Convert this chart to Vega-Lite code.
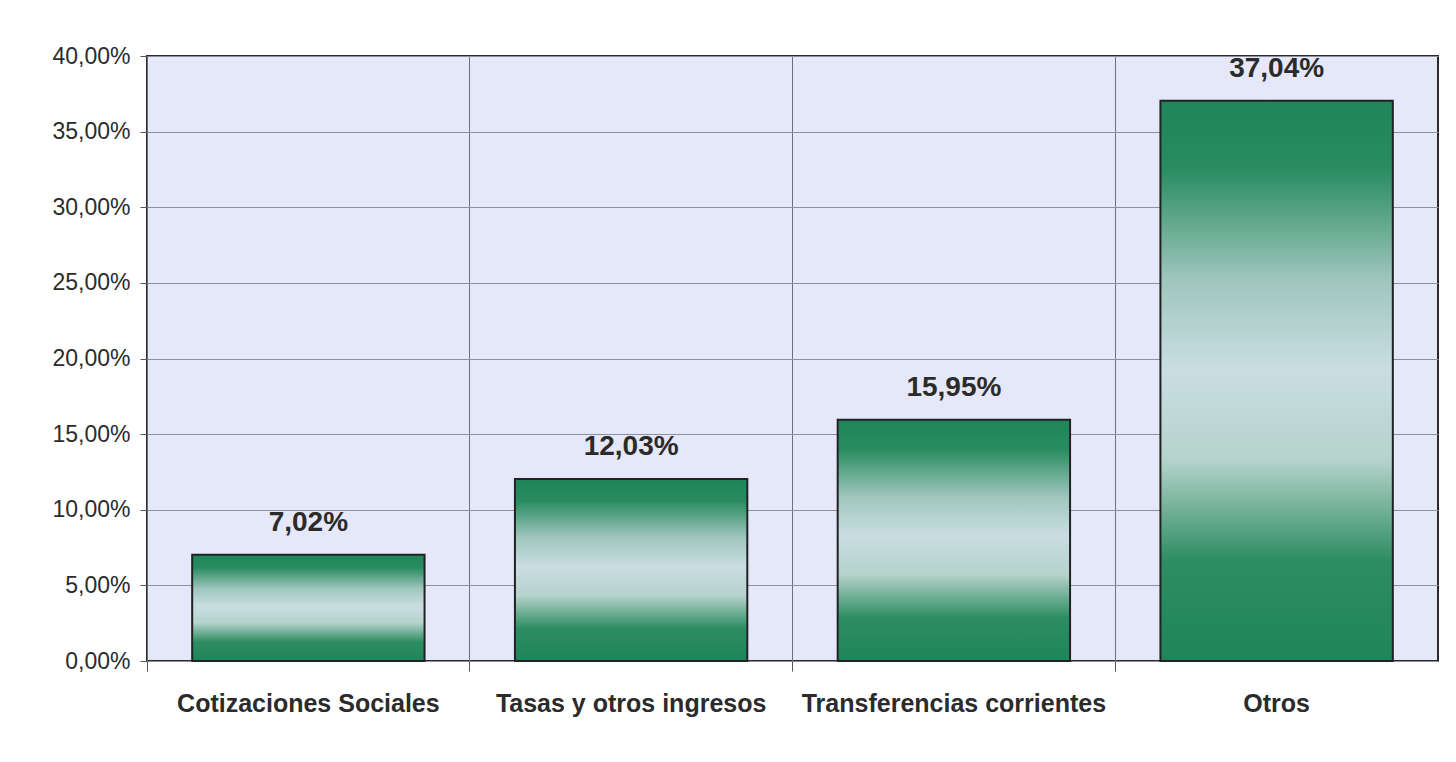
{
  "$schema": "https://vega.github.io/schema/vega-lite/v6.json",
  "autosize": {"type": "none"},
  "padding": {"left": 147, "top": 56, "right": 18, "bottom": 101},
  "width": 1291,
  "height": 605,
  "background": "white",
  "config": {
    "locale": {"number": {"decimal": ",", "thousands": ".", "grouping": [3], "currency": ["", " €"]}},
    "font": "Liberation Sans",
    "view": {"fill": "#e4e8f8", "stroke": "#2a2a2a", "strokeWidth": 2}
  },
  "data": {
    "values": [
      {"categoria": "Cotizaciones Sociales", "valor": 0.0702},
      {"categoria": "Tasas y otros ingresos", "valor": 0.1203},
      {"categoria": "Transferencias corrientes", "valor": 0.1595},
      {"categoria": "Otros", "valor": 0.3704}
    ]
  },
  "encoding": {
    "x": {
      "field": "categoria",
      "type": "nominal",
      "sort": null,
      "scale": {"paddingInner": 0.28, "paddingOuter": 0.14},
      "axis": {
        "title": null,
        "labelAngle": 0,
        "labelFont": "Liberation Sans",
        "labelFontSize": 25,
        "labelFontWeight": "bold",
        "labelColor": "#2b2b2b",
        "labelPadding": 20,
        "labelLimit": 0,
        "tickSize": 10,
        "tickColor": "#555",
        "domain": false,
        "grid": true,
        "gridColor": "#6e6e78",
        "gridWidth": 1,
        "bandPosition": -0.1944
      }
    },
    "y": {
      "field": "valor",
      "type": "quantitative",
      "scale": {"domain": [0, 0.4], "nice": false},
      "axis": {
        "title": null,
        "format": ".2%",
        "values": [0, 0.05, 0.1, 0.15, 0.2, 0.25, 0.3, 0.35, 0.4],
        "labelFont": "Liberation Sans",
        "labelFontSize": 23,
        "labelColor": "#2b2b2b",
        "labelPadding": 10,
        "tickSize": 7,
        "tickColor": "#555",
        "domain": false,
        "grid": true,
        "gridColor": "#8d8fa0",
        "gridWidth": 1
      }
    }
  },
  "layer": [
    {
      "mark": {
        "type": "bar",
        "stroke": "#222",
        "strokeWidth": 2,
        "color": {
          "gradient": "linear",
          "x1": 0, "y1": 0, "x2": 0, "y2": 1,
          "stops": [
            {"offset": 0, "color": "#1e8659"},
            {"offset": 0.12, "color": "#288c60"},
            {"offset": 0.32, "color": "#9fc6bd"},
            {"offset": 0.48, "color": "#c9dde3"},
            {"offset": 0.64, "color": "#b6d3cc"},
            {"offset": 0.82, "color": "#2e8d62"},
            {"offset": 1, "color": "#1e8659"}
          ]
        }
      }
    },
    {
      "mark": {
        "type": "text",
        "fontSize": 28,
        "fontWeight": "bold",
        "color": "#2b2b2b",
        "baseline": "middle",
        "dy": -32
      },
      "encoding": {
        "text": {"field": "valor", "type": "quantitative", "format": ".2%"}
      }
    }
  ]
}
